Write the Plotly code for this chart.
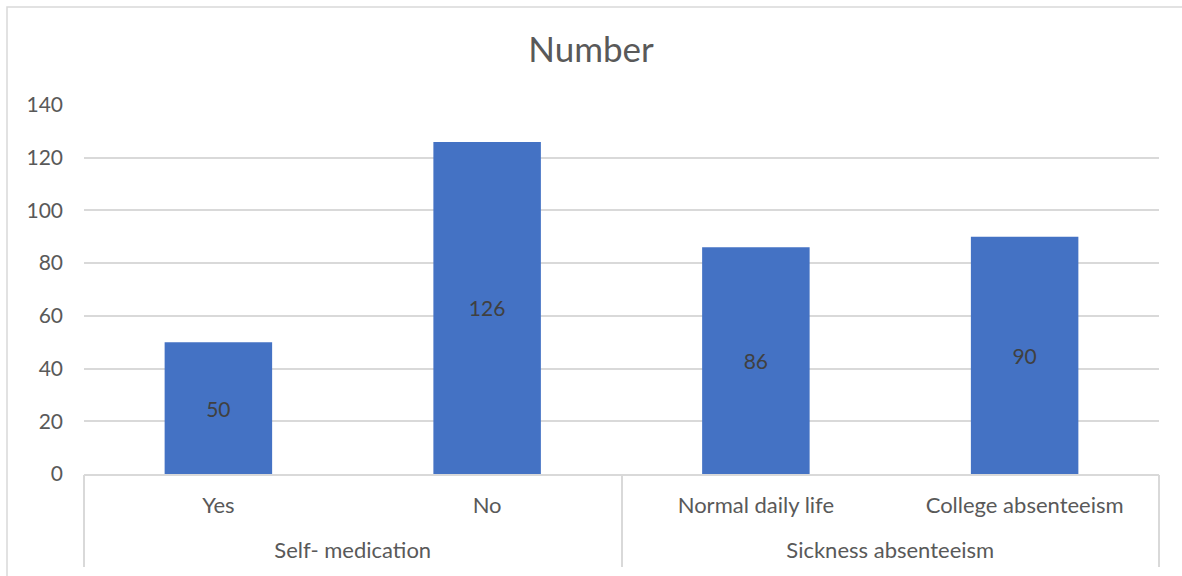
import plotly.graph_objects as go

# Two-level categories: group and item
groups = ["Self- medication", "Self- medication", "Sickness absenteeism", "Sickness absenteeism"]
items = ["Yes", "No", "Normal daily life", "College absenteeism"]
counts = [50, 126, 86, 90]

y_ticks = [0, 20, 40, 60, 80, 100, 120, 140]

FONT = "Lato, 'Open Sans', sans-serif"
GREY_TEXT = "#595959"
GRID = "#D9D9D9"

# Group centres and group boundaries on the category index scale
group_names, group_centers, boundaries = [], [], [-0.5]
start = 0
for i in range(1, len(groups) + 1):
    if i == len(groups) or groups[i] != groups[start]:
        group_names.append(groups[start])
        group_centers.append((start + i - 1) / 2)
        boundaries.append(i - 0.5)
        start = i

x_range = [-0.5, len(items) - 0.5]

fig = go.Figure()
fig.add_trace(
    go.Bar(
        x=items,
        y=counts,
        width=0.4,
        marker=dict(color="#4472C4", line=dict(width=0)),
        text=[str(v) for v in counts],
        textposition="inside",
        insidetextanchor="middle",
        textfont=dict(family=FONT, size=21, color="#404040"),
        hovertext=groups,
        hovertemplate="%{hovertext} / %{x}: %{y}<extra></extra>",
    )
)
# Carrier traces so the group-label axis and the divider axis are drawn
fig.add_trace(go.Scatter(x=group_centers, y=[0] * len(group_centers), xaxis="x2",
                         mode="markers", marker=dict(opacity=0), hoverinfo="skip"))
fig.add_trace(go.Scatter(x=boundaries, y=[0] * len(boundaries), xaxis="x3",
                         mode="markers", marker=dict(opacity=0), hoverinfo="skip"))

W, H = 1182, 576
ml, mr, mt, mb = 84, 23, 105, 102
pw, ph = W - ml - mr, H - mt - mb

# Outer chart frame (drawn in paper coordinates around the plot area)
fig.add_shape(
    type="rect", xref="paper", yref="paper",
    x0=(7 - ml) / pw, x1=(W + 10 - ml) / pw,
    y0=-(H + 10 - (mt + ph)) / ph, y1=(mt + ph - 7) / ph,
    line=dict(color=GRID, width=1.5), fillcolor="rgba(0,0,0,0)", layer="below",
)

fig.update_layout(
    width=W, height=H,
    margin=dict(l=ml, r=mr, t=mt, b=mb, autoexpand=False),
    paper_bgcolor="white", plot_bgcolor="white",
    showlegend=False,
    title=dict(
        text="Number", x=0.5, xanchor="center", y=1 - 50 / H, yanchor="middle",
        font=dict(family=FONT, size=35, color=GREY_TEXT),
    ),
    font=dict(family=FONT, color=GREY_TEXT),
    xaxis=dict(
        type="category", range=x_range, automargin=False,
        showline=True, linecolor=GRID, linewidth=1.5,
        tickfont=dict(family=FONT, size=22, color=GREY_TEXT),
        ticks="", ticklabelstandoff=11,
        showgrid=False, zeroline=False,
    ),
    # Second label row: group names
    xaxis2=dict(
        overlaying="x", anchor="y", side="bottom", type="linear", range=x_range,
        automargin=False,
        tickvals=group_centers, ticktext=group_names,
        tickfont=dict(family=FONT, size=22, color=GREY_TEXT),
        ticks="", ticklabelstandoff=61,
        showgrid=False, zeroline=False, showline=False,
    ),
    # Vertical dividers between groups, reaching down through both label rows
    xaxis3=dict(
        overlaying="x", anchor="y", side="bottom", type="linear", range=x_range,
        automargin=False,
        tickvals=boundaries, ticks="outside", ticklen=92,
        tickcolor=GRID, tickwidth=1.5, showticklabels=False,
        showgrid=False, zeroline=False, showline=False,
    ),
    yaxis=dict(
        range=[0, 140], tickvals=y_ticks, ticktext=[str(t) for t in y_ticks],
        automargin=False,
        showgrid=True, gridcolor=GRID, gridwidth=1.5,
        zeroline=False, showline=False,
        tickfont=dict(family=FONT, size=21, color=GREY_TEXT),
        ticklabelstandoff=20,
    ),
)

fig.write_html("out.html")
